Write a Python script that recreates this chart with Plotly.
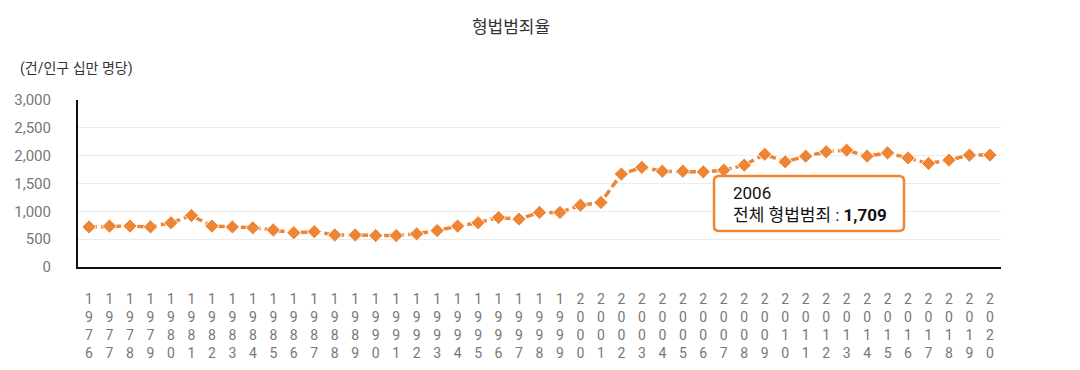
import plotly.graph_objects as go

years = list(range(1976, 2021))
values = [720, 735, 735, 720, 795, 925, 735, 720, 705, 665, 615, 635, 575, 575,
          565, 565, 595, 655, 735, 795, 890, 860, 980, 980, 1110, 1160, 1670, 1790,
          1720, 1720, 1709, 1740, 1830, 2025, 1890, 1990, 2070, 2100, 1990, 2050,
          1960, 1860, 1920, 2010, 2010]
tick_labels = ["<br>".join(str(y)) for y in years]

title_text = "형법범죄율"
unit_text = "(건/인구 십만 명당)"
series_name = "전체 형법범죄"
hl_year = 2006

orange = "#EE8535"
font_family = "Roboto, 'Noto Sans CJK KR', sans-serif"

L, R, T, B = 78, 1001, 100, 267
PW, PH = R - L, B - T


def px(x):
    return (x - L) / PW


def py(y):
    return (B - y) / PH


fig = go.Figure()
fig.add_trace(go.Scatter(
    x=years, y=values, mode="lines+markers", name=series_name,
    line=dict(color=orange, width=3.5, dash="8px,4px"),
    marker=dict(symbol="diamond", size=11, color=orange, line=dict(color="white", width=1)),
    showlegend=False,
))

# tooltip box (rounded rectangle)
x0, x1, y0, y1, r = 714, 904, 176, 231, 5
path = (f"M {px(x0 + r)} {py(y0)} L {px(x1 - r)} {py(y0)} "
        f"Q {px(x1)} {py(y0)} {px(x1)} {py(y0 + r)} L {px(x1)} {py(y1 - r)} "
        f"Q {px(x1)} {py(y1)} {px(x1 - r)} {py(y1)} L {px(x0 + r)} {py(y1)} "
        f"Q {px(x0)} {py(y1)} {px(x0)} {py(y1 - r)} L {px(x0)} {py(y0 + r)} "
        f"Q {px(x0)} {py(y0)} {px(x0 + r)} {py(y0)} Z")
fig.add_shape(type="path", xref="paper", yref="paper", path=path,
              fillcolor="white", line=dict(color=orange, width=2.5), layer="above")

hl_val = values[years.index(hl_year)]
fig.add_annotation(
    xref="paper", yref="paper", x=px(731), y=py(203.5),
    xanchor="left", yanchor="middle", align="left",
    text=f"{hl_year}<br>{series_name} : <b>{hl_val:,}</b>",
    showarrow=False,
    font=dict(family=font_family, size=17, color="#111"),
)

fig.add_annotation(
    xref="paper", yref="paper", x=px(18), y=py(68),
    xanchor="left", yanchor="middle", text=unit_text, showarrow=False,
    font=dict(family=font_family, size=14, color="#333"),
)

fig.update_layout(
    width=1080, height=370,
    margin=dict(l=L, r=1080 - R, t=T, b=370 - B, autoexpand=False),
    paper_bgcolor="white", plot_bgcolor="white",
    title=dict(text=title_text, x=511 / 1080, xanchor="center", y=1 - 27 / 370, yanchor="middle",
               font=dict(family=font_family, size=17, color="#333")),
    font=dict(family=font_family),
    xaxis=dict(
        range=[1976 - 0.54, 2020 + 0.54], tickmode="array", tickvals=years, ticktext=tick_labels,
        tickangle=0, showgrid=False, showline=True, linecolor="#111", linewidth=2,
        tickfont=dict(size=14, color="#777"), ticks="outside", ticklen=18, tickcolor="rgba(0,0,0,0)",
        zeroline=False, automargin=False,
    ),
    yaxis=dict(
        range=[0, 3000], tickvals=[0, 500, 1000, 1500, 2000, 2500, 3000],
        ticktext=["0", "500", "1,000", "1,500", "2,000", "2,500", "3,000"],
        showgrid=True, gridcolor="#EBEBEB", gridwidth=1,
        showline=True, linecolor="#111", linewidth=2, zeroline=False, automargin=False,
        tickfont=dict(size=15, color="#777"), ticks="outside", ticklen=22,
        tickcolor="rgba(0,0,0,0)",
    ),
)

fig.write_html("out.html", config={"displayModeBar": False},
               post_script="document.body.style.margin='0';")
